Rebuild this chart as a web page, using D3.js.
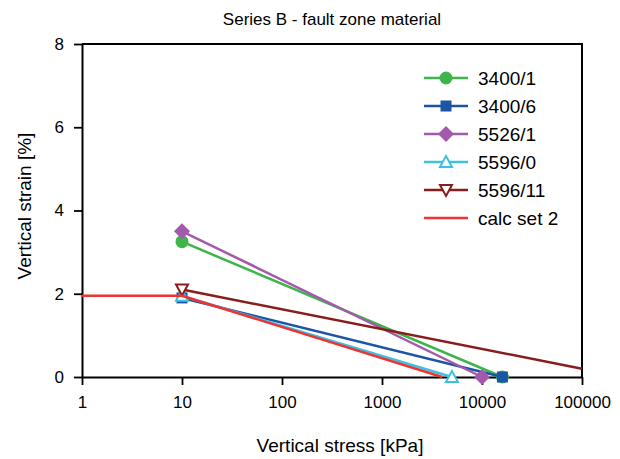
<!DOCTYPE html>
<html><head><meta charset="utf-8">
<script src="https://cdn.jsdelivr.net/npm/d3@7"></script>
<style>body{margin:0;background:#fff}svg{display:block}text{font-family:"Liberation Sans",Arial,sans-serif;fill:#000}</style>
</head><body><svg id="c" width="620" height="459"></svg>
<script>
const xTicks = [1, 10, 100, 1000, 10000, 100000];
const yTicks = [0, 2, 4, 6, 8];
const seriesNames = ["3400/1", "3400/6", "5526/1", "5596/0", "5596/11", "calc set 2"];
const seriesColors = ["#3db54a", "#1b55a6", "#a35aab", "#3ec1df", "#8b1c1c", "#ee3333"];
const seriesMarkers = ["circle", "square", "diamond", "triangle", "triangleDown", "none"];
const s3400_1 = [[10, 3.25], [16000, 0]];
const s3400_6 = [[10, 1.9], [16000, 0]];
const s5526_1 = [[10, 3.5], [10000, 0]];
const s5596_0 = [[10, 1.95], [5000, 0]];
const s5596_11 = [[10, 2.1], [100000, 0.2]];
const calcSet2 = [[1, 1.95], [10, 1.95], [4000, 0]];
const seriesData = [s3400_1, s3400_6, s5526_1, s5596_0, s5596_11, calcSet2];
// number of leading points that carry a marker (line end of 5596/11 is at the plot edge, no marker)
const markerCount = [2, 2, 2, 2, 1, 0];

const svg = d3.select("#c");
const L = 82, R = 582, T = 44, B = 377;
const x = d3.scaleLog().domain([1, 100000]).range([L, R]);
const y = d3.scaleLinear().domain([0, 8]).range([B, T]);

svg.append("text").attr("x", (L + R) / 2).attr("y", 25).attr("text-anchor", "middle")
  .style("font-size", "17px").text("Series B - fault zone material");

svg.append("path").attr("d", `M${L},${T}H${R}V${B}`).attr("fill", "none").attr("stroke", "#000").attr("stroke-width", 2);

const xAxis = svg.append("g").attr("transform", `translate(0,${B})`)
  .call(d3.axisBottom(x).tickValues(xTicks).tickFormat(d3.format("d")).tickSize(8).tickSizeOuter(0));
const yAxis = svg.append("g").attr("transform", `translate(${L},0)`)
  .call(d3.axisLeft(y).tickValues(yTicks).tickSize(8).tickSizeOuter(0));
[xAxis, yAxis].forEach(a => {
  a.select(".domain").attr("stroke-width", 2);
  a.selectAll(".tick line").attr("stroke-width", 1.8);
  a.selectAll("text").style("font-size", "17px").attr("font-family", "Liberation Sans, Arial, sans-serif");
});
xAxis.selectAll("text").attr("dy", "1.2em");
yAxis.selectAll("text").attr("dx", "-7px");

svg.append("text").attr("x", (L + R) / 2 + 8).attr("y", 452).attr("text-anchor", "middle")
  .style("font-size", "19px").text("Vertical stress [kPa]");
svg.append("text").attr("transform", `translate(31,206) rotate(-90)`).attr("text-anchor", "middle")
  .style("font-size", "19px").text("Vertical strain [%]");

function marker(g, type, cx, cy, color) {
  if (type === "circle") g.append("circle").attr("cx", cx).attr("cy", cy).attr("r", 6.5).attr("fill", color);
  else if (type === "square") g.append("rect").attr("x", cx - 5.5).attr("y", cy - 5.5).attr("width", 11).attr("height", 11).attr("fill", color);
  else if (type === "diamond") g.append("path").attr("d", `M${cx},${cy - 8}L${cx + 8},${cy}L${cx},${cy + 8}L${cx - 8},${cy}Z`).attr("fill", color);
  else if (type === "triangle") g.append("path").attr("d", `M${cx},${cy - 6}L${cx + 6},${cy + 5}L${cx - 6},${cy + 5}Z`).attr("fill", "#fff").attr("stroke", color).attr("stroke-width", 2);
  else if (type === "triangleDown") g.append("path").attr("d", `M${cx},${cy + 6}L${cx + 6},${cy - 5}L${cx - 6},${cy - 5}Z`).attr("fill", "#fff").attr("stroke", color).attr("stroke-width", 2);
}

const line = d3.line().x(d => x(d[0])).y(d => y(d[1]));
const plot = svg.append("g");
seriesData.forEach((data, i) => {
  const g = plot.append("g");
  g.append("path").attr("d", line(data)).attr("fill", "none").attr("stroke", seriesColors[i]).attr("stroke-width", 2.5);
  data.slice(0, markerCount[i]).forEach(d => marker(g, seriesMarkers[i], x(d[0]), y(d[1]), seriesColors[i]));
});

const leg = svg.append("g");
seriesNames.forEach((n, i) => {
  const ly = 78 + i * 28;
  leg.append("line").attr("x1", 424).attr("x2", 468).attr("y1", ly).attr("y2", ly).attr("stroke", seriesColors[i]).attr("stroke-width", 2.5);
  if (markerCount[i] > 0) marker(leg, seriesMarkers[i], 446, ly, seriesColors[i]);
  leg.append("text").attr("x", 478).attr("y", ly + 7).style("font-size", "19px").text(n);
});
</script></body></html>
